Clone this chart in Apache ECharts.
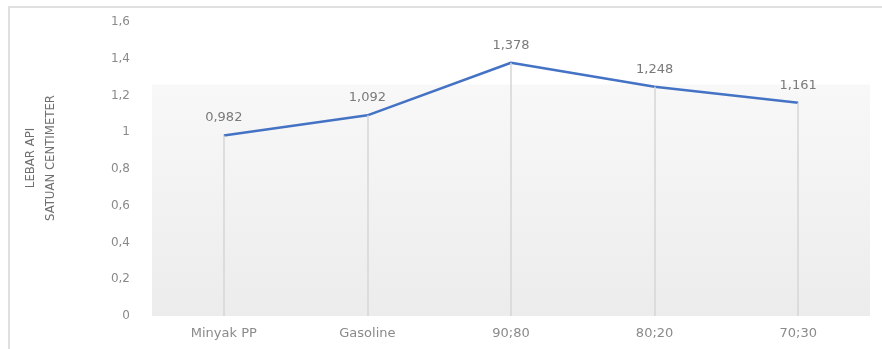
<!DOCTYPE html>
<html>
<head>
<meta charset="utf-8">
<script src="https://cdn.jsdelivr.net/npm/echarts@6/dist/echarts.min.js"></script>
<style>
html,body{margin:0;padding:0;background:#fff;}
#frame{position:absolute;left:8px;top:6px;width:874px;height:343px;border-top:2px solid #e0e0e0;border-left:2px solid #e0e0e0;box-sizing:border-box;}
#chart{position:absolute;left:0;top:0;width:882px;height:349px;}
</style>
</head>
<body>
<div id="frame"></div>
<div id="chart"></div>
<script>
const categories = ['Minyak PP', 'Gasoline', '90;80', '80;20', '70;30'];
const values = [0.982, 1.092, 1.378, 1.248, 1.161];
const yTicks = [0, 0.2, 0.4, 0.6, 0.8, 1, 1.2, 1.4, 1.6];
const yTitle = 'LEBAR API\nSATUAN CENTIMETER';
const bgTop = 1.26;

const fmt = v => String(v).replace('.', ',');

const chart = echarts.init(document.getElementById('chart'), null, {renderer: 'canvas'});
chart.setOption({
  animation: false,
  backgroundColor: 'transparent',
  grid: {left: 152, right: 12, top: 22, bottom: 33, containLabel: false},
  xAxis: {
    type: 'category',
    data: categories,
    boundaryGap: true,
    axisLine: {show: false},
    axisTick: {show: false},
    splitLine: {show: false},
    axisLabel: {color: '#8a8a8a', fontFamily: 'DejaVu Sans', fontSize: 13, margin: 11}
  },
  yAxis: {
    type: 'value',
    min: yTicks[0],
    max: yTicks[yTicks.length - 1],
    interval: 0.2,
    splitLine: {show: false},
    axisLine: {show: false},
    axisTick: {show: false},
    axisLabel: {color: '#8a8a8a', fontFamily: 'DejaVu Sans', fontSize: 12, margin: 22, formatter: v => fmt(Math.round(v * 10) / 10)},
    name: yTitle,
    nameLocation: 'middle',
    nameRotate: 90,
    nameGap: 91,
    nameTextStyle: {color: '#6f6f6f', fontFamily: 'DejaVu Sans Condensed', fontSize: 13, lineHeight: 20, align: 'center', padding: [0, 0, 0, 22]}
  },
  series: [{
    type: 'line',
    data: values,
    symbol: 'circle',
    symbolSize: 0,
    showSymbol: true,
    lineStyle: {color: '#4472c4', width: 2.5},
    itemStyle: {color: '#4472c4'},
    label: {show: true, position: 'top', distance: 11, color: '#7a7a7a', fontFamily: 'DejaVu Sans', fontSize: 13, formatter: p => fmt(p.value)},
    markArea: {
      silent: true,
      itemStyle: {color: {type: 'linear', x: 0, y: 0, x2: 0, y2: 1, colorStops: [{offset: 0, color: '#f8f8f8'}, {offset: 1, color: '#ececec'}]}},
      data: [[{yAxis: 0}, {yAxis: bgTop}]]
    },
    markLine: {
      silent: true,
      symbol: 'none',
      label: {show: false},
      lineStyle: {color: '#d6d6d6', width: 1.5, type: 'solid'},
      data: values.map((v, i) => [{coord: [i, 0]}, {coord: [i, v]}])
    },
    z: 3
  }]
});
</script>
</body>
</html>
